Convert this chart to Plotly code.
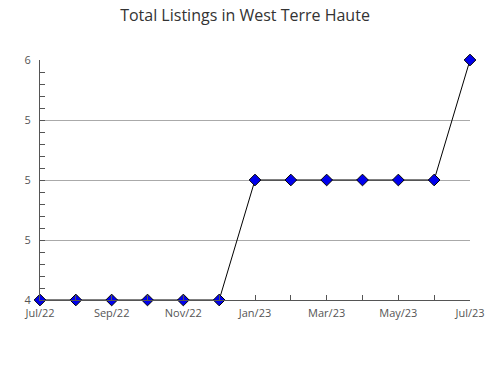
import plotly.graph_objects as go

months = ["Jul/22", "Aug/22", "Sep/22", "Oct/22", "Nov/22", "Dec/22", "Jan/23",
          "Feb/23", "Mar/23", "Apr/23", "May/23", "Jun/23", "Jul/23"]
listings = [4, 4, 4, 4, 4, 4, 5, 5, 5, 5, 5, 5, 6]
y_tick_vals = [4, 4.5, 5, 5.5, 6]
y_tick_text = ["4", "5", "5", "5", "6"]

x_idx = list(range(len(months)))
label_idx = x_idx[::2]
label_text = months[::2]

fig = go.Figure()
fig.add_trace(go.Scatter(
    x=x_idx, y=listings, mode="lines+markers",
    line=dict(color="black", width=1),
    marker=dict(symbol="diamond", size=9, color="#0000ee",
                line=dict(color="black", width=1)),
    cliponaxis=False, showlegend=False,
))

fig.update_layout(
    width=490, height=380,
    margin=dict(l=40, r=20, t=60, b=80, autoexpand=False),
    paper_bgcolor="white", plot_bgcolor="white",
    font=dict(family="Open Sans, Noto Sans, sans-serif", size=11, color="#555"),
    title=dict(text="Total Listings in West Terre Haute", x=0.5, xanchor="center",
               y=0.975, yanchor="top",
               font=dict(size=16, color="#333")),
)
fig.update_xaxes(
    range=[0, 12], tickmode="array", tickvals=label_idx, ticktext=label_text,
    automargin=False,
    showgrid=False, zeroline=False, showline=True, linecolor="#555", linewidth=1,
    ticks="inside", ticklen=5, tickcolor="#555", ticklabelstandoff=3,
    minor=dict(tickmode="array", tickvals=x_idx, ticks="inside", ticklen=5,
               tickcolor="#555"),
    tickfont=dict(size=11, color="#555"),
)
fig.update_yaxes(
    range=[4, 6], tickmode="array", tickvals=y_tick_vals, ticktext=y_tick_text,
    automargin=False,
    showgrid=True, gridcolor="#aaa", gridwidth=1, zeroline=False,
    showline=True, linecolor="#555", linewidth=1,
    ticks="inside", ticklen=5, tickcolor="#555", ticklabelstandoff=6,
    minor=dict(dtick=0.1, ticks="inside", ticklen=5, tickcolor="#555", showgrid=False),
    tickfont=dict(size=11, color="#555"),
)

fig.write_html("out.html")
